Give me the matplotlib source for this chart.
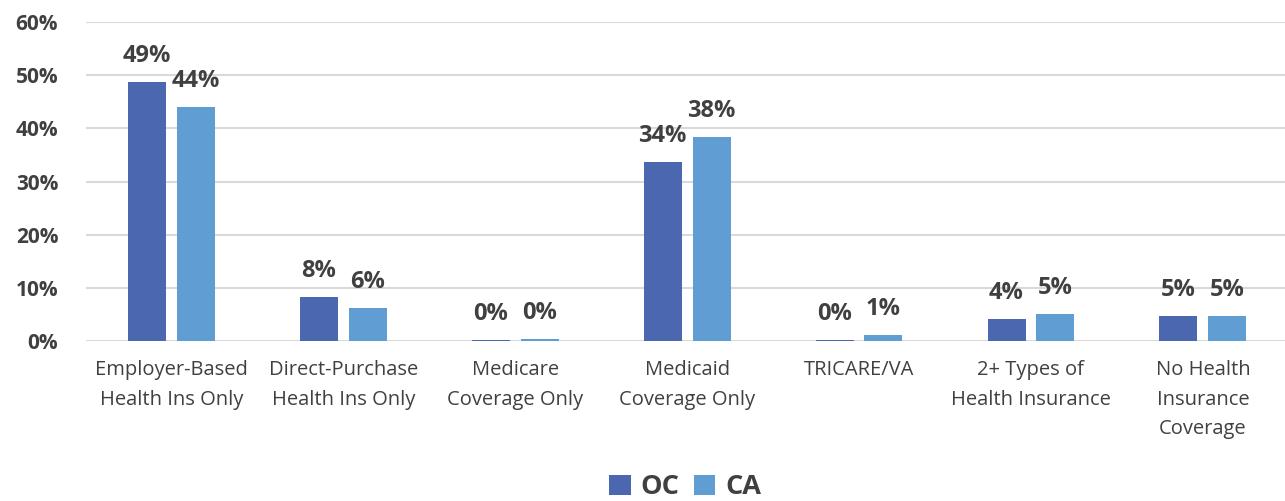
import matplotlib
matplotlib.use('Agg')
import matplotlib.pyplot as plt
import numpy as np

plt.rcParams['font.family'] = ['Open Sans', 'DejaVu Sans']

categories = ["Employer-Based\nHealth Ins Only", "Direct-Purchase\nHealth Ins Only",
              "Medicare\nCoverage Only", "Medicaid\nCoverage Only", "TRICARE/VA",
              "2+ Types of\nHealth Insurance", "No Health\nInsurance\nCoverage"]
oc_values = [48.7, 8.3, 0.2, 33.6, 0.2, 4.1, 4.7]
ca_values = [44.0, 6.2, 0.4, 38.3, 1.1, 5.1, 4.7]
oc_labels = ["49%", "8%", "0%", "34%", "0%", "4%", "5%"]
ca_labels = ["44%", "6%", "0%", "38%", "1%", "5%", "5%"]
yticks = [0, 10, 20, 30, 40, 50, 60]

OC_COLOR = '#4a67b0'
CA_COLOR = '#609dd3'
TEXT = '#404040'

fig = plt.figure(figsize=(12.85, 5.01), dpi=100)
ax = fig.add_axes([86/1285, 1 - 341/501, (1285 - 86)/1285, (341 - 22)/501])

x = np.arange(len(categories))
w = 0.221
off = 0.142
b1 = ax.bar(x - off, oc_values, w, color=OC_COLOR, label='OC', zorder=3)
b2 = ax.bar(x + off, ca_values, w, color=CA_COLOR, label='CA', zorder=3)

for bars, labs in [(b1, oc_labels), (b2, ca_labels)]:
    for rect, lab in zip(bars, labs):
        ax.annotate(lab, (rect.get_x() + rect.get_width() / 2, rect.get_height()),
                    xytext=(0, 10), textcoords='offset points', ha='center', va='bottom',
                    fontsize=17, fontweight='bold', color=TEXT)

ax.set_xlim(-0.497, 6.478)
ax.set_ylim(0, 60)
ax.set_yticks(yticks)
ax.set_yticklabels([f"{v}%" for v in yticks], fontsize=15, fontweight='bold', color=TEXT)
ax.set_xticks(x)
ax.set_xticklabels(categories, fontsize=14.5, color=TEXT, linespacing=1.62, va='top')
ax.tick_params(axis='both', length=0)
ax.tick_params(axis='y', pad=20)
ax.tick_params(axis='x', pad=14)
ax.grid(axis='y', color='#d9d9d9', linewidth=1.5, zorder=0)
for s in ax.spines.values():
    s.set_visible(False)

fig.legend(handles=[b1, b2], loc='center', bbox_to_anchor=(0.533, 0.027), ncol=2,
           frameon=False, handlelength=0.8, handleheight=0.8, handletextpad=0.35,
           columnspacing=0.55, prop={'size': 19.5, 'weight': 'bold'}, labelcolor=TEXT)

fig.savefig('out.png', dpi=100)
